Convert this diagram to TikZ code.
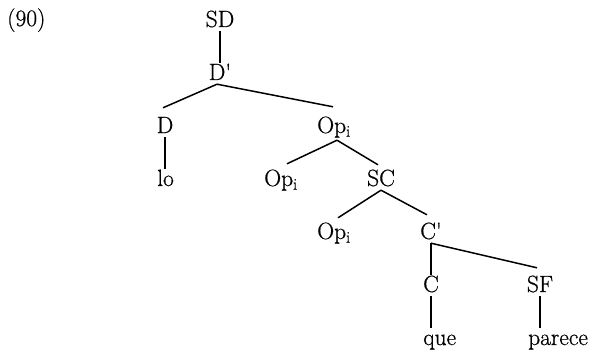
\documentclass[tikz,border=0pt]{standalone}
\usepackage{fontspec}
\newfontfamily\treefont[FakeBold=0.7]{Latin Modern Roman}
\begin{document}
\begin{tikzpicture}[x=1pt,y=-1pt,
  lab/.style={anchor=base, inner xsep=0pt, inner ysep=2pt, text height=15pt, text depth=2pt, font=\treefont\fontsize{23.5}{28}\selectfont},
  op/.style={lab, text depth=5pt},
  word/.style={lab, anchor=base west},
  edge/.style={line width=1.5pt}]
\path[use as bounding box] (0,0) rectangle (600,353);
\node[word] (num) at (7,26) {(90)};
\node[lab] (SD) at (220,27) {SD};
\node[lab] (Dbar) at (220,80) {D'};
\node[lab] (D) at (165,133) {D};
\node[word] (lo) at (157,186) {lo};
\node[op] (Op1) at (334,133) {Op\textsubscript{i}};
\node[op] (Op2) at (281,186) {Op\textsubscript{i}};
\node[lab] (SC) at (381,186) {SC};
\node[op] (Op3) at (334,239) {Op\textsubscript{i}};
\node[lab] (Cbar) at (431,239) {C'};
\node[lab] (C) at (431,292) {C};
\node[lab] (SF) at (540,292) {SF};
\node[word] (que) at (423,345) {que};
\node[word] (parece) at (528,345) {parece};
% vertical edges
\draw[edge] (SD.south) -- (Dbar.north);
\draw[edge] (D.south) -- (D.south |- lo.north);
\draw[edge] (Cbar.south) -- (C.north);
\draw[edge] (C.south) -- (C.south |- que.north);
\draw[edge] (SF.south) -- (SF.south |- parece.north);
% diagonal edges
\draw[edge] ([xshift=-3pt]Dbar.south) -- ([shift={(-2pt,8pt)}]D.north);
\draw[edge] ([xshift=-3pt]Dbar.south) -- ([shift={(-1pt,9pt)}]Op1.north);
\draw[edge] ([xshift=3pt]Op1.south) -- ([shift={(6pt,5pt)}]Op2.north);
\draw[edge] ([xshift=3pt]Op1.south) -- ([shift={(-3pt,4pt)}]SC.north);
\draw[edge] (SC.south) -- ([shift={(4pt,4pt)}]Op3.north);
\draw[edge] (SC.south) -- ([shift={(-4pt,7pt)}]Cbar.north);
\draw[edge] (Cbar.south) -- ([shift={(-3pt,7pt)}]SF.north);
\end{tikzpicture}
\end{document}
